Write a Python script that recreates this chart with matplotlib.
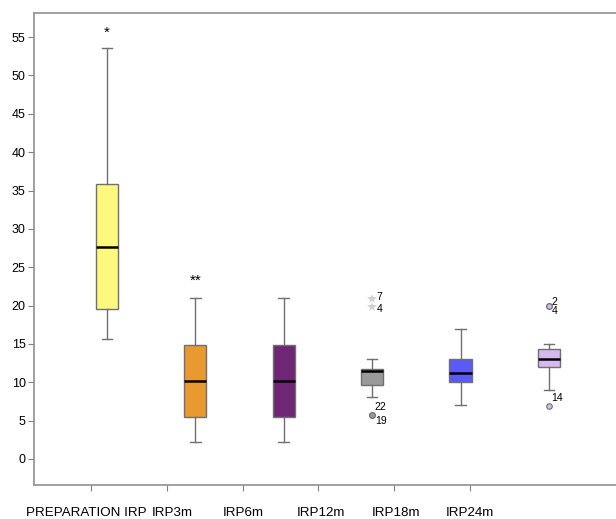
import matplotlib
matplotlib.use("Agg")
from matplotlib import pyplot as plt
import numpy as np

plt.rcParams['font.family'] = ['Liberation Sans', 'DejaVu Sans']

# Box statistics
groups = ['PREPARATION IRP', 'IRP3m', 'IRP6m', 'IRP12m', 'IRP18m', 'IRP24m']
whis_lo = [15.6, 2.2, 2.2, 8.1, 7.0, 9.0]
q1 = [19.6, 5.5, 5.5, 9.6, 10.0, 12.0]
median = [27.7, 10.2, 10.2, 11.5, 11.2, 13.0]
q3 = [35.9, 14.8, 14.8, 11.7, 13.0, 14.4]
whis_hi = [53.6, 21.0, 21.0, 13.0, 17.0, 15.0]
colors = ['#fdf97e', '#e8992f', '#6e2675', '#9a9a9a', '#5a5af8', '#d6b9ee']

# extreme values (stars) and outliers (circles) with case labels
extreme_group = [4, 4]
extreme_val = [20.8, 19.8]
extreme_lab = ['7', '4']
outlier_group = [4, 4, 6, 6, 6]
outlier_val = [5.8, 5.8, 19.9, 19.9, 6.9]
outlier_lab = ['22', '19', '2', '4', '14']

# significance marks
sig_group = [1, 2]
sig_val = [55.5, 23.2]
sig_text = ['*', '**']

fig = plt.figure(figsize=(6.16, 5.19), dpi=100)
ax = fig.add_axes([34/616, 34/519, 590/616, 472/519])

stats = []
for i in range(len(groups)):
    stats.append(dict(med=median[i], q1=q1[i], q3=q3[i],
                      whislo=whis_lo[i], whishi=whis_hi[i], fliers=[]))
pos = np.arange(1, len(groups) + 1)
bp = ax.bxp(stats, positions=pos, widths=0.25, capwidths=0.12,
            patch_artist=True, showfliers=False,
            boxprops=dict(edgecolor='#707070', linewidth=1.0),
            whiskerprops=dict(color='#707070', linewidth=1.0),
            capprops=dict(color='#707070', linewidth=1.0),
            medianprops=dict(color='black', linewidth=1.8))
for patch, c in zip(bp['boxes'], colors):
    patch.set_facecolor(c)

# extremes
ax.plot(extreme_group, extreme_val, linestyle='none', marker='*',
        markersize=7, color='#d2d2d2', markeredgewidth=0)
ext_dy = [0.3, -0.3]
for g, v, t, d in zip(extreme_group, extreme_val, extreme_lab, ext_dy):
    ax.text(g + 0.05, v + d, t, fontsize=7.5, va='center', ha='left')

# outliers
for g, v in zip(outlier_group, outlier_val):
    ax.plot(g, v, linestyle='none', marker='o', markersize=4,
            markerfacecolor=colors[g - 1], markeredgecolor='#707070',
            markeredgewidth=0.8)
# label offsets so the stacked labels do not overlap
lab_dy = [1.0, -0.8, 0.6, -0.6, 1.0]
for g, v, t, d in zip(outlier_group, outlier_val, outlier_lab, lab_dy):
    ax.text(g + 0.03, v + d, t, fontsize=7.5, va='center', ha='left')

for g, v, t in zip(sig_group, sig_val, sig_text):
    ax.text(g, v, t, fontsize=11, ha='center', va='center')

ax.set_xlim(0.174, 6.85)
ax.set_ylim(-3.39, 58.14)
ax.set_yticks(np.arange(0, 56, 5))
ax.tick_params(axis='y', labelsize=9, length=4, color='#808080', pad=2)

# category ticks are spaced differently from the boxes in the original
tick_pos = 0.82 + np.arange(len(groups)) * 6 / 7
label_pos = [0.762, 1.735, 2.538, 3.42, 4.27, 5.106]
ax.set_xticks(tick_pos)
ax.set_xticklabels([])
ax.set_xticks(label_pos, minor=True)
ax.set_xticklabels(groups, minor=True)
ax.tick_params(axis='x', which='major', length=4.3, color='#808080')
ax.tick_params(axis='x', which='minor', length=0, labelsize=9.6, pad=16)

for s in ['left', 'bottom', 'top']:
    ax.spines[s].set_color('#909090')
    ax.spines[s].set_linewidth(1.2)
ax.spines['right'].set_visible(False)

fig.savefig('out.png', dpi=100)
